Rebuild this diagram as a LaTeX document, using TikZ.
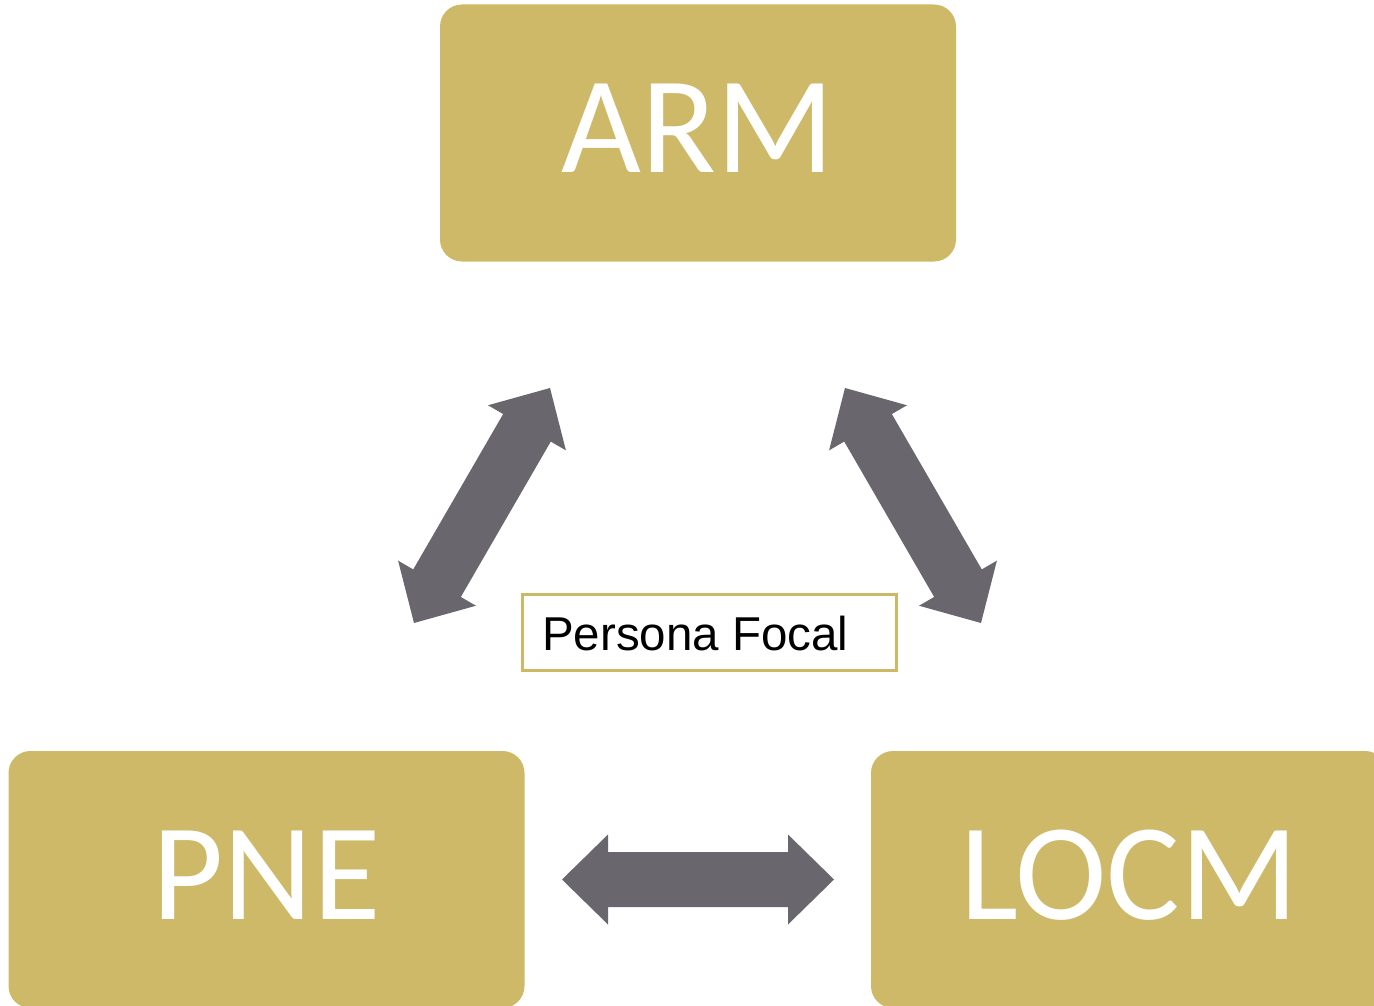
\documentclass[tikz,border=0pt]{standalone}
\usepackage{fontspec}
\setmainfont{Carlito}
\newfontfamily\labelfont{Liberation Sans}
\usetikzlibrary{calc}

\definecolor{gold}{HTML}{CEB968}
\definecolor{goldline}{HTML}{CDB865}
\definecolor{arrowgray}{HTML}{69666D}

% block double arrow between two tip points:
% head length 46, head half-width 45, shaft half-width 27.5
\newcommand\blockdblarrow[2]{%
  \fill[arrowgray]
    (#1)
    -- ($(#1)!46pt!(#2)!45pt!90:(#2)$)
    -- ($(#1)!46pt!(#2)!27.5pt!90:(#2)$)
    -- ($(#2)!46pt!(#1)!27.5pt!-90:(#1)$)
    -- ($(#2)!46pt!(#1)!45pt!-90:(#1)$)
    -- (#2)
    -- ($(#2)!46pt!(#1)!45pt!90:(#1)$)
    -- ($(#2)!46pt!(#1)!27.5pt!90:(#1)$)
    -- ($(#1)!46pt!(#2)!27.5pt!-90:(#2)$)
    -- ($(#1)!46pt!(#2)!45pt!-90:(#2)$)
    -- cycle;}

\begin{document}
\begin{tikzpicture}[x=1pt,y=-1pt,
  box/.style={fill=gold, rounded corners=22pt, inner sep=0pt,
    minimum width=516pt, minimum height=257pt},
  boxlabel/.style={text=white, font=\fontsize{138}{140}\selectfont,
    inner sep=0pt, anchor=base},
  focal/.style={draw=goldline, line width=3pt, fill=white, inner sep=0pt,
    minimum width=374pt, minimum height=76pt},
  focallabel/.style={text=black, font=\labelfont\fontsize{47.5}{50}\selectfont,
    inner sep=0pt, anchor=base west}]
\useasboundingbox (0,0) rectangle (1374,1006);

% the three actors
\node[box] (arm)  at (698,133)    {};
\node[box] (pne)  at (266.5,879.5) {};
\node[box] (locm) at (1129,879.5) {};
\node[boxlabel] (armtext)  at ($(arm.center)+(0,39)$)    {ARM};
\node[boxlabel] (pnetext)  at ($(pne.center)+(0,39.5)$)  {PNE};
\node[boxlabel] (locmtext) at ($(locm.center)+(0,39.5)$) {LOCM};

% central label
\node[focal] (focal) at (709.5,632.5) {};
\node[focallabel] (focaltext) at (542,650) {Persona Focal};

% tips of the relation arrows
\coordinate (lt) at (550,388);
\coordinate (lb) at (414,623);
\coordinate (rt) at (845,388);
\coordinate (rb) at (981,623);
\coordinate (hl) at (562,879.5);
\coordinate (hr) at (834,879.5);

\blockdblarrow{lt}{lb}
\blockdblarrow{rt}{rb}
\blockdblarrow{hl}{hr}
\end{tikzpicture}
\end{document}
